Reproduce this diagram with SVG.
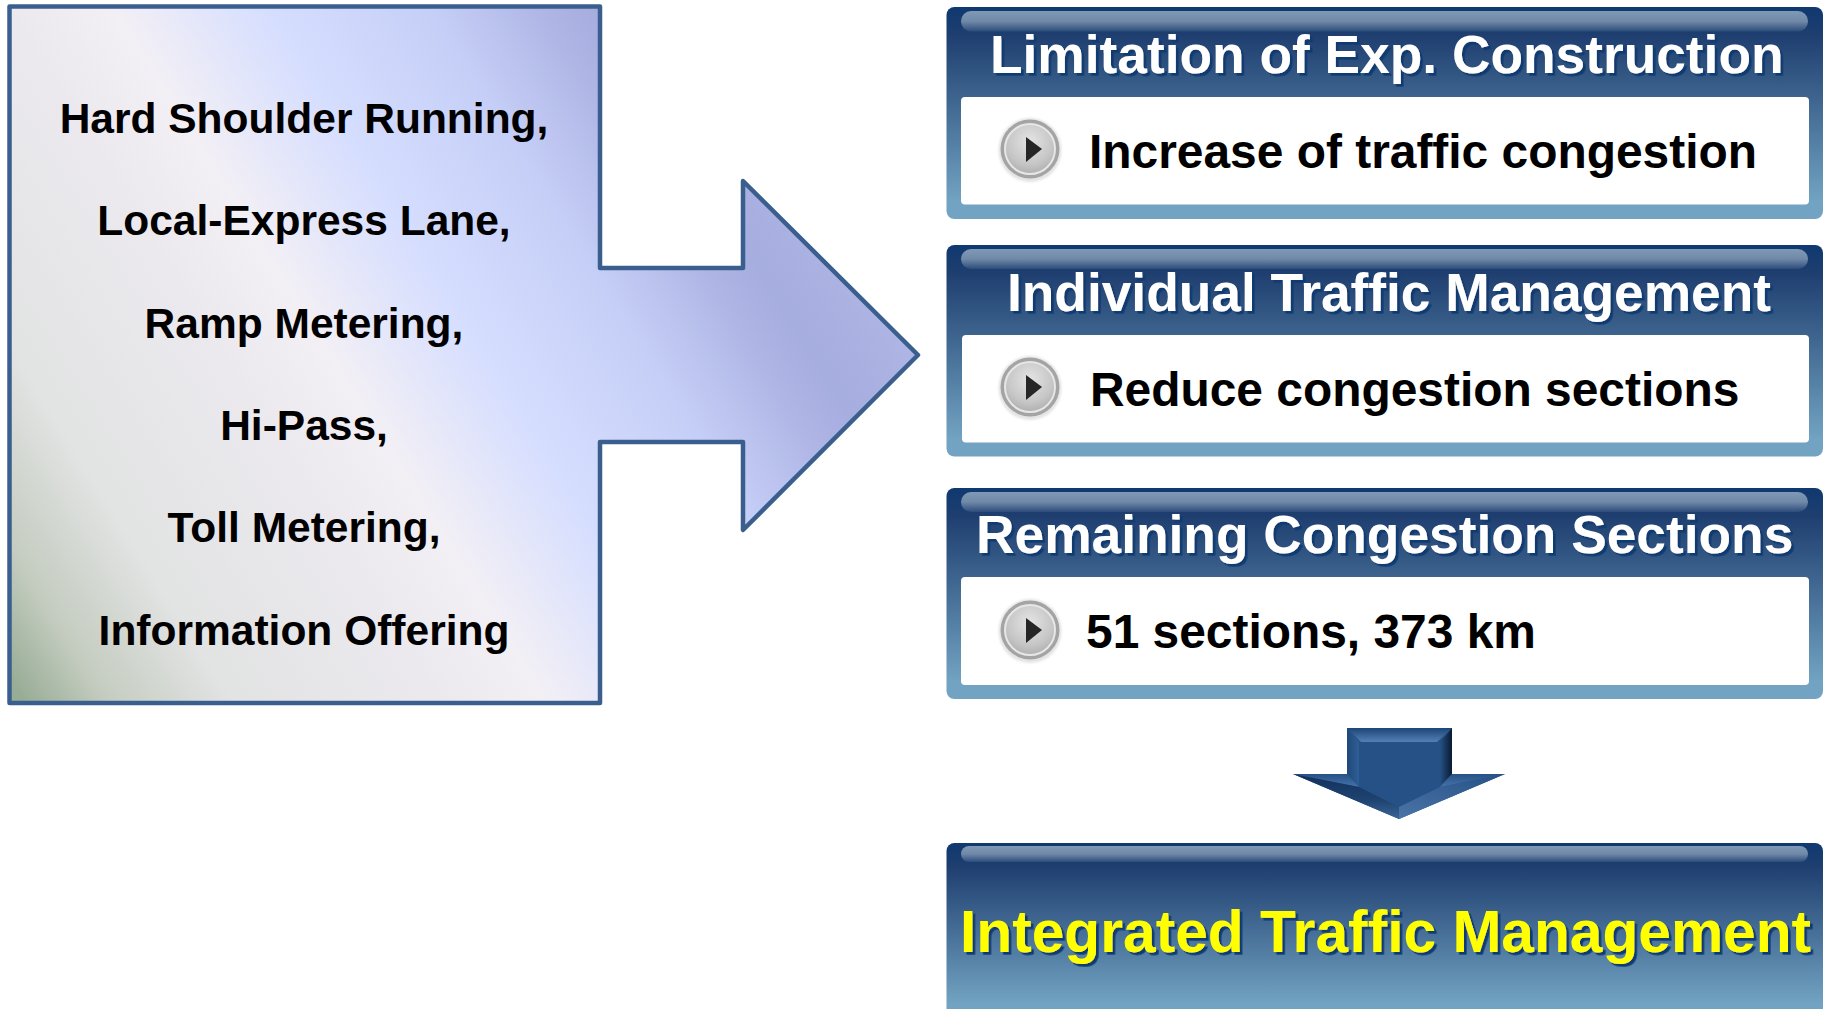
<svg xmlns="http://www.w3.org/2000/svg" width="1829" height="1009" viewBox="0 0 1829 1009">
<style>
text{font-family:"Liberation Sans",Arial,sans-serif;font-weight:bold}
.l{font-size:42.5px;text-anchor:middle;fill:#000}
.t{font-size:53.3px;fill:#fff;filter:url(#sh)}
.b{font-size:47.9px;fill:#000}
.panel{fill:url(#pg)}
.hi{fill:url(#hg)}
.in{fill:#fff}
</style>
<defs>
<linearGradient id="pg" x1="0" y1="0" x2="0" y2="1"><stop offset="0" stop-color="#0f3970"/><stop offset=".13" stop-color="#1e3e6f"/><stop offset=".92" stop-color="#72a3c2"/></linearGradient>
<linearGradient id="hg" x1="0" y1="0" x2="0" y2="1"><stop offset="0" stop-color="#7f99b6"/><stop offset=".5" stop-color="#7089a8"/><stop offset="1" stop-color="#2c4c7a"/></linearGradient>
<linearGradient id="big" gradientUnits="userSpaceOnUse" x1="-307" y1="192" x2="505" y2="-315">
<stop offset=".012" stop-color="#98ad96"/><stop offset=".085" stop-color="#c4ccc0"/><stop offset=".195" stop-color="#e2e3e3"/><stop offset=".378" stop-color="#ebe9ee"/><stop offset=".476" stop-color="#f2eff5"/><stop offset=".61" stop-color="#d6deff"/><stop offset=".757" stop-color="#c5cef6"/><stop offset=".848" stop-color="#b0b7e6"/><stop offset=".902" stop-color="#a6addf"/><stop offset=".988" stop-color="#aeb5e4"/></linearGradient>
<radialGradient id="ic" cx=".5" cy=".35" r=".65"><stop offset="0" stop-color="#e4e4e4"/><stop offset=".7" stop-color="#c6c6c6"/><stop offset="1" stop-color="#b0b0b0"/></radialGradient>
<linearGradient id="aTop" x1="0" y1="0" x2="0" y2="1"><stop offset="0" stop-color="#1d4577"/><stop offset="1" stop-color="#5380b6"/></linearGradient>
<linearGradient id="aRight" x1="1" y1="0" x2="0" y2="0"><stop offset="0" stop-color="#081a30"/><stop offset="1" stop-color="#265186"/></linearGradient>
<linearGradient id="aLeft" x1="0" y1="0" x2="1" y2="0"><stop offset="0" stop-color="#1f4879"/><stop offset="1" stop-color="#2f5f96"/></linearGradient>
<linearGradient id="aWing" x1="0" y1="0" x2="0" y2="1"><stop offset="0" stop-color="#265186"/><stop offset="1" stop-color="#4573aa"/></linearGradient>
<linearGradient id="aLow" x1="0" y1="0" x2="0" y2="1"><stop offset="0" stop-color="#12305a"/><stop offset=".6" stop-color="#1f4472"/><stop offset="1" stop-color="#3b6697"/></linearGradient>
<linearGradient id="aLowR" x1="1" y1="0" x2="0" y2="1"><stop offset="0" stop-color="#265186"/><stop offset="1" stop-color="#4a74a6"/></linearGradient>
<filter id="sh" x="-5%" y="-20%" width="110%" height="140%"><feDropShadow dx="2.700" dy="2.700" stdDeviation=".3" flood-color="#0b3a72"/></filter>
<filter id="bl" x="-20%" y="-20%" width="140%" height="140%"><feGaussianBlur stdDeviation=".8"/></filter>
<filter id="bs" x="-10%" y="-10%" width="120%" height="120%"><feGaussianBlur stdDeviation=".7"/></filter>
<g id="icon">
<ellipse cy="1" rx="31.500" ry="32" fill="#bbb" opacity=".4" filter="url(#bl)"/>
<g filter="url(#bs)">
<circle r="29.500" fill="#a4a4a4"/>
<circle r="25" fill="url(#ic)" stroke="#e6e6e6" stroke-width="2"/>
<path d="M-4,-12 L12,0 L-4,13Z" fill="#262626"/>
</g>
</g>
</defs>

<g id="source-block">
<path d="M9.500,6.500H600V268H743V181L918,355L743,530V442H600V703H9.500Z" fill="url(#big)" stroke="#3a5f8e" stroke-width="4.500" stroke-linejoin="round"/>
<text class="l" x="304" y="133">Hard Shoulder Running,</text>
<text class="l" x="304" y="235">Local-Express Lane,</text>
<text class="l" x="304" y="338">Ramp Metering,</text>
<text class="l" x="304" y="440">Hi-Pass,</text>
<text class="l" x="304" y="542">Toll Metering,</text>
<text class="l" x="304" y="645">Information Offering</text>
</g>

<g id="panel-limitation">
<rect class="panel" x="946.500" y="7" width="876.500" height="212" rx="8"/>
<rect class="hi" x="961" y="11" width="847" height="20.500" rx="10"/>
<rect class="in" x="961" y="97" width="848" height="107.500" rx="4"/>
<text class="t" x="990" y="73">Limitation of Exp. Construction</text>
<use href="#icon" x="1030" y="149"/>
<text class="b" x="1089" y="168">Increase of traffic congestion</text>
</g>

<g id="panel-individual">
<rect class="panel" x="946.500" y="245" width="876.500" height="211.500" rx="8"/>
<rect class="hi" x="961" y="249" width="847" height="20" rx="10"/>
<rect class="in" x="962" y="335" width="847" height="107.500" rx="4"/>
<text class="t" x="1007" y="311">Individual Traffic Management</text>
<use href="#icon" x="1030" y="387"/>
<text class="b" x="1090" y="406">Reduce congestion sections</text>
</g>

<g id="panel-remaining">
<rect class="panel" x="946.500" y="488" width="876.500" height="211" rx="8"/>
<rect class="hi" x="961" y="492" width="847" height="20" rx="10"/>
<rect class="in" x="961" y="577" width="848" height="108" rx="4"/>
<text class="t" x="976" y="553">Remaining Congestion Sections</text>
<use href="#icon" x="1030" y="630"/>
<text class="b" x="1086" y="648">51 sections, 373 km</text>
</g>

<g id="connectors">
<path d="M1347,728H1452V774H1505L1399,819L1293,774H1347Z" fill="#265186"/>
<path d="M1347,728H1452L1437,742H1361Z" fill="url(#aTop)"/>
<path d="M1452,728V774L1440,786V742Z" fill="url(#aRight)"/>
<path d="M1347,728V774L1359,786V742Z" fill="url(#aLeft)"/>
<path d="M1293,774H1347L1359,787Z" fill="url(#aWing)"/>
<path d="M1505,774H1452L1440,787Z" fill="url(#aWing)"/>
<path d="M1293,774L1399,819V807L1359,787Z" fill="url(#aLow)"/>
<path d="M1505,774L1399,819V807L1440,787Z" fill="url(#aLowR)"/>
</g>

<g id="panel-integrated">
<rect class="panel" x="946.500" y="843" width="876.500" height="175" rx="8"/>
<rect class="hi" x="961" y="846" width="847" height="16" rx="8"/>
<text x="960" y="952" font-size="58.700" fill="#ffff00" filter="url(#sh)">Integrated Traffic Management</text>
</g>
</svg>
